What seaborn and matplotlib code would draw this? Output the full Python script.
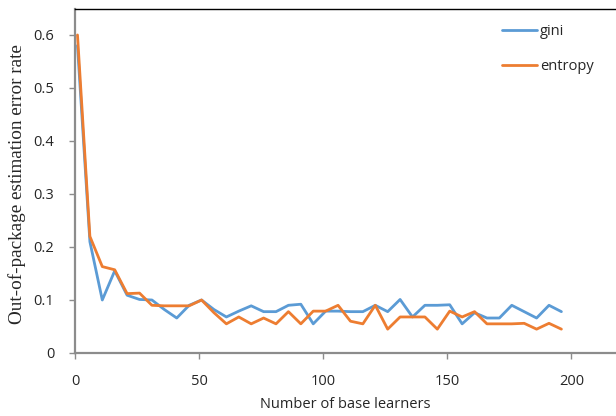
import pandas as pd
import numpy as np
import matplotlib
matplotlib.use('Agg')
import matplotlib.pyplot as plt
import seaborn as sns

sns.set_style('white')
plt.rcParams['font.family'] = ['Open Sans', 'DejaVu Sans']

# number of base learners (one point every 5)
learners = [1, 6, 11, 16, 21, 26, 31, 36, 41, 46,
            51, 56, 61, 66, 71, 76, 81, 86, 91, 96,
            101, 106, 111, 116, 121, 126, 131, 136, 141, 146,
            151, 156, 161, 166, 171, 176, 181, 186, 191, 196]

gini = [0.58, 0.21, 0.100, 0.155, 0.109, 0.101, 0.100, 0.082, 0.066, 0.090,
        0.100, 0.082, 0.068, 0.079, 0.089, 0.078, 0.078, 0.090, 0.092, 0.055,
        0.079, 0.079, 0.078, 0.078, 0.090, 0.078, 0.101, 0.068, 0.090, 0.090,
        0.091, 0.055, 0.076, 0.066, 0.066, 0.090, 0.078, 0.066, 0.090, 0.078]

entropy = [0.60, 0.22, 0.163, 0.157, 0.112, 0.113, 0.090, 0.089, 0.089, 0.089,
           0.100, 0.076, 0.055, 0.068, 0.055, 0.066, 0.055, 0.078, 0.055, 0.079,
           0.079, 0.090, 0.060, 0.055, 0.090, 0.045, 0.068, 0.068, 0.068, 0.045,
           0.079, 0.068, 0.078, 0.055, 0.055, 0.055, 0.056, 0.045, 0.056, 0.045]

df = pd.DataFrame({
    'learners': learners * 2,
    'rate': gini + entropy,
    'criterion': ['gini'] * len(gini) + ['entropy'] * len(entropy),
})

fig = plt.figure(figsize=(6.16, 4.16), dpi=100)
ax = fig.add_axes([75 / 616, 1 - 353 / 416, 1 - 75 / 616, (353 - 9) / 416])

sns.lineplot(ax=ax, data=df, x='learners', y='rate', hue='criterion',
             palette={'gini': '#5B9BD5', 'entropy': '#ED7D31'},
             linewidth=2.0)

ax.set_xlim(0, 218)
ax.set_ylim(0, 0.649)
ax.set_xticks([0, 50, 100, 150, 200])
ax.set_yticks([0, 0.1, 0.2, 0.3, 0.4, 0.5, 0.6])
ax.set_yticklabels(['0', '0.1', '0.2', '0.3', '0.4', '0.5', '0.6'])
ax.tick_params(axis='both', which='major', labelsize=10.5, length=4,
               color='#8c8c8c', width=1, pad=11, direction='out',
               left=True, bottom=True)

for s in ['left', 'bottom']:
    ax.spines[s].set_color('#8c8c8c')
    ax.spines[s].set_linewidth(1.6)
ax.spines['right'].set_visible(False)
ax.spines['top'].set_color('black')
ax.spines['top'].set_linewidth(1.0)

ax.set_xlabel('Number of base learners', fontsize=10.5)
ax.xaxis.set_label_coords(0.5, -0.128)
ax.set_ylabel('Out-of-package estimation error rate', fontsize=13.8,
              family=['Liberation Serif', 'DejaVu Serif'])
ax.yaxis.set_label_coords(-0.09, 0.49)

ax.legend(loc='upper left', bbox_to_anchor=(0.789, 0.955), frameon=False,
          fontsize=10.5, handlelength=2.4, handletextpad=0.2,
          labelspacing=1.35, borderpad=0, borderaxespad=0)

fig.savefig('out.png', dpi=100)
